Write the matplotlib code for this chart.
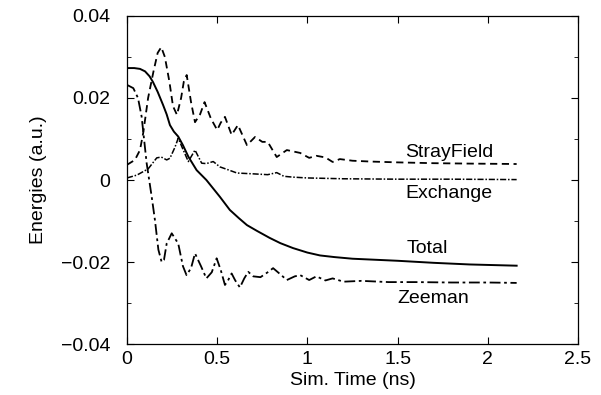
import matplotlib
matplotlib.use("Agg")
import matplotlib.pyplot as plt
from matplotlib.ticker import MultipleLocator

plt.rcParams['font.family'] = ['Liberation Sans', 'DejaVu Sans']

# ---- data ----
t_stray = [0, 0.044, 0.072, 0.09, 0.117, 0.146, 0.17, 0.19, 0.21, 0.235, 0.255, 0.277,
           0.30, 0.315, 0.331, 0.355, 0.377, 0.405, 0.43, 0.465, 0.50, 0.52, 0.543,
           0.58, 0.615, 0.665, 0.71, 0.75, 0.78, 0.83, 0.886, 0.96, 1.01, 1.05, 1.10,
           1.14, 1.18, 1.25, 1.35, 1.5, 1.7, 1.9, 2.16]
e_stray = [0.0037, 0.0049, 0.0073, 0.0115, 0.020, 0.0263, 0.031, 0.0324, 0.030, 0.024, 0.018, 0.0159,
           0.020, 0.024, 0.0256, 0.019, 0.0141, 0.016, 0.019, 0.015, 0.0122, 0.014, 0.0154,
           0.011, 0.0134, 0.0085, 0.0105, 0.0093, 0.0093, 0.0056, 0.0073, 0.0066, 0.0054, 0.0059, 0.0055,
           0.0044, 0.0051, 0.0047, 0.0045, 0.0043, 0.0041, 0.0040, 0.0039]

t_exch = [0, 0.055, 0.117, 0.165, 0.19, 0.22, 0.238, 0.266, 0.284, 0.312, 0.34, 0.377,
          0.414, 0.44, 0.478, 0.515, 0.56, 0.61, 0.7, 0.78, 0.83, 0.87, 0.92, 1.0,
          1.2, 1.5, 1.8, 2.16]
e_exch = [0.0005, 0.0012, 0.0027, 0.0054, 0.0056, 0.0049, 0.0053, 0.008, 0.0102, 0.0073, 0.0045, 0.0073,
          0.0041, 0.0040, 0.0045, 0.0032, 0.0025, 0.0017, 0.0015, 0.0013, 0.0018, 0.0009, 0.0007, 0.0005,
          0.0003, 0.0002, 0.0002, 0.0001]

t_total = [0, 0.04, 0.072, 0.1, 0.125, 0.144, 0.17, 0.2, 0.22, 0.238, 0.26, 0.284, 0.31,
           0.34, 0.386, 0.44, 0.515, 0.57, 0.62, 0.665, 0.72, 0.79, 0.85, 0.92, 1.0,
           1.07, 1.15, 1.25, 1.35, 1.5, 1.7, 1.9, 2.16]
e_total = [0.0273, 0.0273, 0.0271, 0.0265, 0.0253, 0.0239, 0.0215, 0.0183, 0.016, 0.0134, 0.0118, 0.0106, 0.0085,
           0.0057, 0.0024, 0.0, -0.0041, -0.0073, -0.0093, -0.011, -0.0124, -0.0141, -0.0154, -0.0166, -0.0177,
           -0.0184, -0.0188, -0.0192, -0.0194, -0.0197, -0.0202, -0.0206, -0.0209]

t_zee = [0, 0.035, 0.061, 0.081, 0.109, 0.137, 0.155, 0.174, 0.192, 0.205, 0.22, 0.248,
         0.284, 0.31, 0.33, 0.355, 0.377, 0.41, 0.44, 0.47, 0.497, 0.52, 0.543, 0.56,
         0.58, 0.6, 0.626, 0.65, 0.672, 0.70, 0.74, 0.78, 0.81, 0.85, 0.886, 0.93,
         0.96, 1.01, 1.05, 1.1, 1.14, 1.2, 1.3, 1.45, 1.6, 1.8, 2.0, 2.16]
e_zee = [0.0232, 0.0224, 0.020, 0.0155, 0.0041, -0.0041, -0.0098, -0.017, -0.020, -0.0195, -0.0155, -0.013,
         -0.0155, -0.021, -0.0232, -0.0215, -0.0179, -0.021, -0.024, -0.0225, -0.0191, -0.022, -0.0256, -0.0245,
         -0.0228, -0.0245, -0.0262, -0.024, -0.0224, -0.0235, -0.0237, -0.0225, -0.0215, -0.023, -0.0244, -0.0235,
         -0.0232, -0.0244, -0.0235, -0.0245, -0.024, -0.0248, -0.0246, -0.0249, -0.0249, -0.025, -0.025, -0.0251]

labels = ["StrayField", "Exchange", "Total", "Zeeman"]
label_x = [1.54, 1.545, 1.55, 1.50]
label_y = [0.0068, -0.0032, -0.0168, -0.0288]

x_ticks = [0, 0.5, 1, 1.5, 2, 2.5]
x_ticklabels = ["0", "0.5", "1", "1.5", "2", "2.5"]
y_ticks = [-0.04, -0.02, 0, 0.02, 0.04]
y_ticklabels = ["\u22120.04", "\u22120.02", "0", "0.02", "0.04"]

# ---- figure ----
fig = plt.figure(figsize=(6.01, 3.95), dpi=100)
ax = fig.add_axes([0.2113, 0.1291, 0.7504, 0.8304])

ax.plot(t_stray, e_stray, color='black', lw=1.3, ls=(0, (4, 2.5)))
ax.plot(t_exch, e_exch, color='black', lw=1.1, ls=(0, (4, 1.2, 1, 1.2)))
ax.plot(t_total, e_total, color='black', lw=1.4, ls='-')
ax.plot(t_zee, e_zee, color='black', lw=1.3, ls=(0, (6, 2, 1.5, 2)))

for s, x, y in zip(labels, label_x, label_y):
    ax.text(x, y, s, fontsize=14, ha='left', va='center')

ax.set_xlim(0, 2.5)
ax.set_ylim(-0.04, 0.04)
ax.set_xticks(x_ticks)
ax.set_xticklabels(x_ticklabels)
ax.set_yticks(y_ticks)
ax.set_yticklabels(y_ticklabels)
ax.yaxis.set_minor_locator(MultipleLocator(0.01))
ax.tick_params(which='both', direction='in', top=True, right=True, labelsize=14)
ax.tick_params(axis='y', which='major', length=5, pad=12)
ax.tick_params(axis='x', which='major', length=5, pad=5)
ax.tick_params(which='minor', length=3)
for sp in ax.spines.values():
    sp.set_linewidth(0.9)

ax.set_xlabel("Sim. Time (ns)", fontsize=14, labelpad=3)
ax.set_ylabel("Energies (a.u.)", fontsize=14, labelpad=10)

fig.savefig("out.png", dpi=100)
